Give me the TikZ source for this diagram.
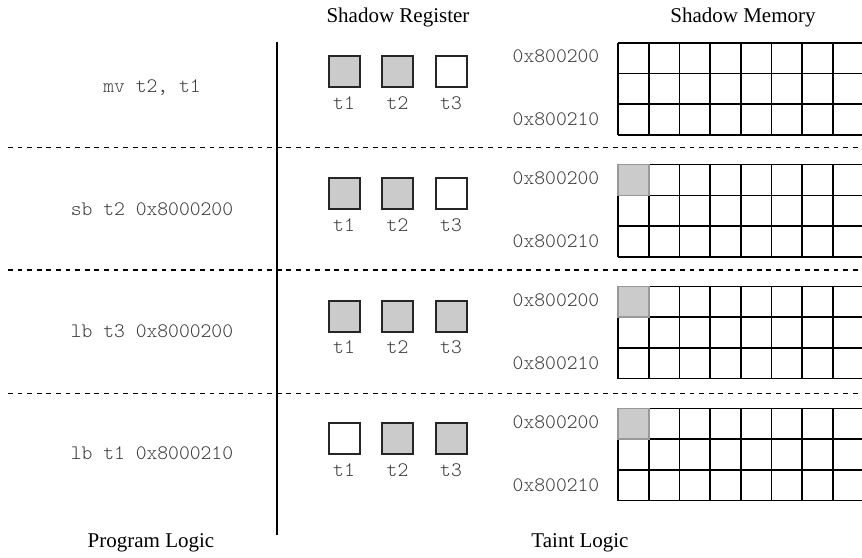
\documentclass[tikz,border=0pt]{standalone}
\usepackage{fontspec}
\setmainfont{Liberation Serif}
\setmonofont{Latin Modern Mono Light}
\usepackage{tikz}
\usetikzlibrary{positioning}
\definecolor{taintgray}{HTML}{CBCBCB}
\definecolor{codegray}{HTML}{3A3A3A}

\begin{document}
\begin{tikzpicture}[x=0.5pt,y=-0.5pt]
    \tikzstyle{every node}=[inner sep=0pt]
    \tikzstyle{heading} = [font=\fontsize{10.5}{12}\selectfont]
    \tikzstyle{instr} = [font=\ttfamily\fontsize{10.3}{11}\selectfont, text=codegray]
    \tikzstyle{reg} = [draw=black!85, line width=1pt, minimum size=15.5pt]
    \tikzstyle{cell} = [line width=0.8pt]
    \tikzstyle{divider} = [line width=0.75pt, dash pattern=on 2.4pt off 2.4pt]

    \useasboundingbox (0,0) rectangle (862,557);

    \node[heading](hreg) at (398,17) {Shadow Register};
    \node[heading](hmem) at (743,17) {Shadow Memory};
    \node[heading](prog) at (151,543) {Program Logic};
    \node[heading](taint) at (580,543) {Taint Logic};

    % program / taint split
    \coordinate (vtop) at (277,42);
    \coordinate (vbot) at (277,535);
    \draw[line width=0.8pt] (vtop) -- (vbot);

    \foreach \j/\y in {1/147.5, 2/270, 3/393.5} {
        \coordinate (dl\j) at (8,\y);
        \coordinate (dr\j) at (862,\y);
        \draw[divider] (dl\j) -- (dr\j);
    }

    \foreach \i/\ins/\ca/\cb/\cc/\hit in {0/{mv t2, t1}/taintgray/taintgray/white/0,
                                         1/{sb t2 0x8000200}/taintgray/taintgray/white/1,
                                         2/{lb t3 0x8000200}/taintgray/taintgray/taintgray/1,
                                         3/{lb t1 0x8000210}/white/taintgray/taintgray/1} {
        \pgfmathsetmacro\ytop{42.7+121.9*\i}
        \pgfmathsetmacro\yreg{71.5+122.3*\i}

        \node[instr](ins\i) at (152,88+121.7*\i) {\ins};

        % registers
        \node[reg, fill=\ca](ra\i) at (344,\yreg) {};
        \node[reg, fill=\cb](rb\i) at (397.5,\yreg) {};
        \node[reg, fill=\cc](rc\i) at (451,\yreg) {};
        \node[instr, below=4pt of ra\i] (la\i) {t1};
        \node[instr, below=4pt of rb\i] (lb\i) {t2};
        \node[instr, below=4pt of rc\i] (lc\i) {t3};

        % memory
        \node[instr](lo\i) at (556,\ytop+14) {0x800200};
        \node[instr](hi\i) at (556,\ytop+77) {0x800210};
        \foreach \k in {0,...,3}
            \draw[cell] (618,\ytop+30.7*\k) -- (862,\ytop+30.7*\k);
        \foreach \k in {0,...,7}
            \draw[cell] (618+30.7*\k,\ytop) -- (618+30.7*\k,\ytop+92.1);
        \ifnum\hit=1
            \filldraw[fill=taintgray, draw=black!40, line width=0.8pt] (618,\ytop) rectangle (648.7,\ytop+30.7);
        \fi
    }
\end{tikzpicture}
\end{document}
